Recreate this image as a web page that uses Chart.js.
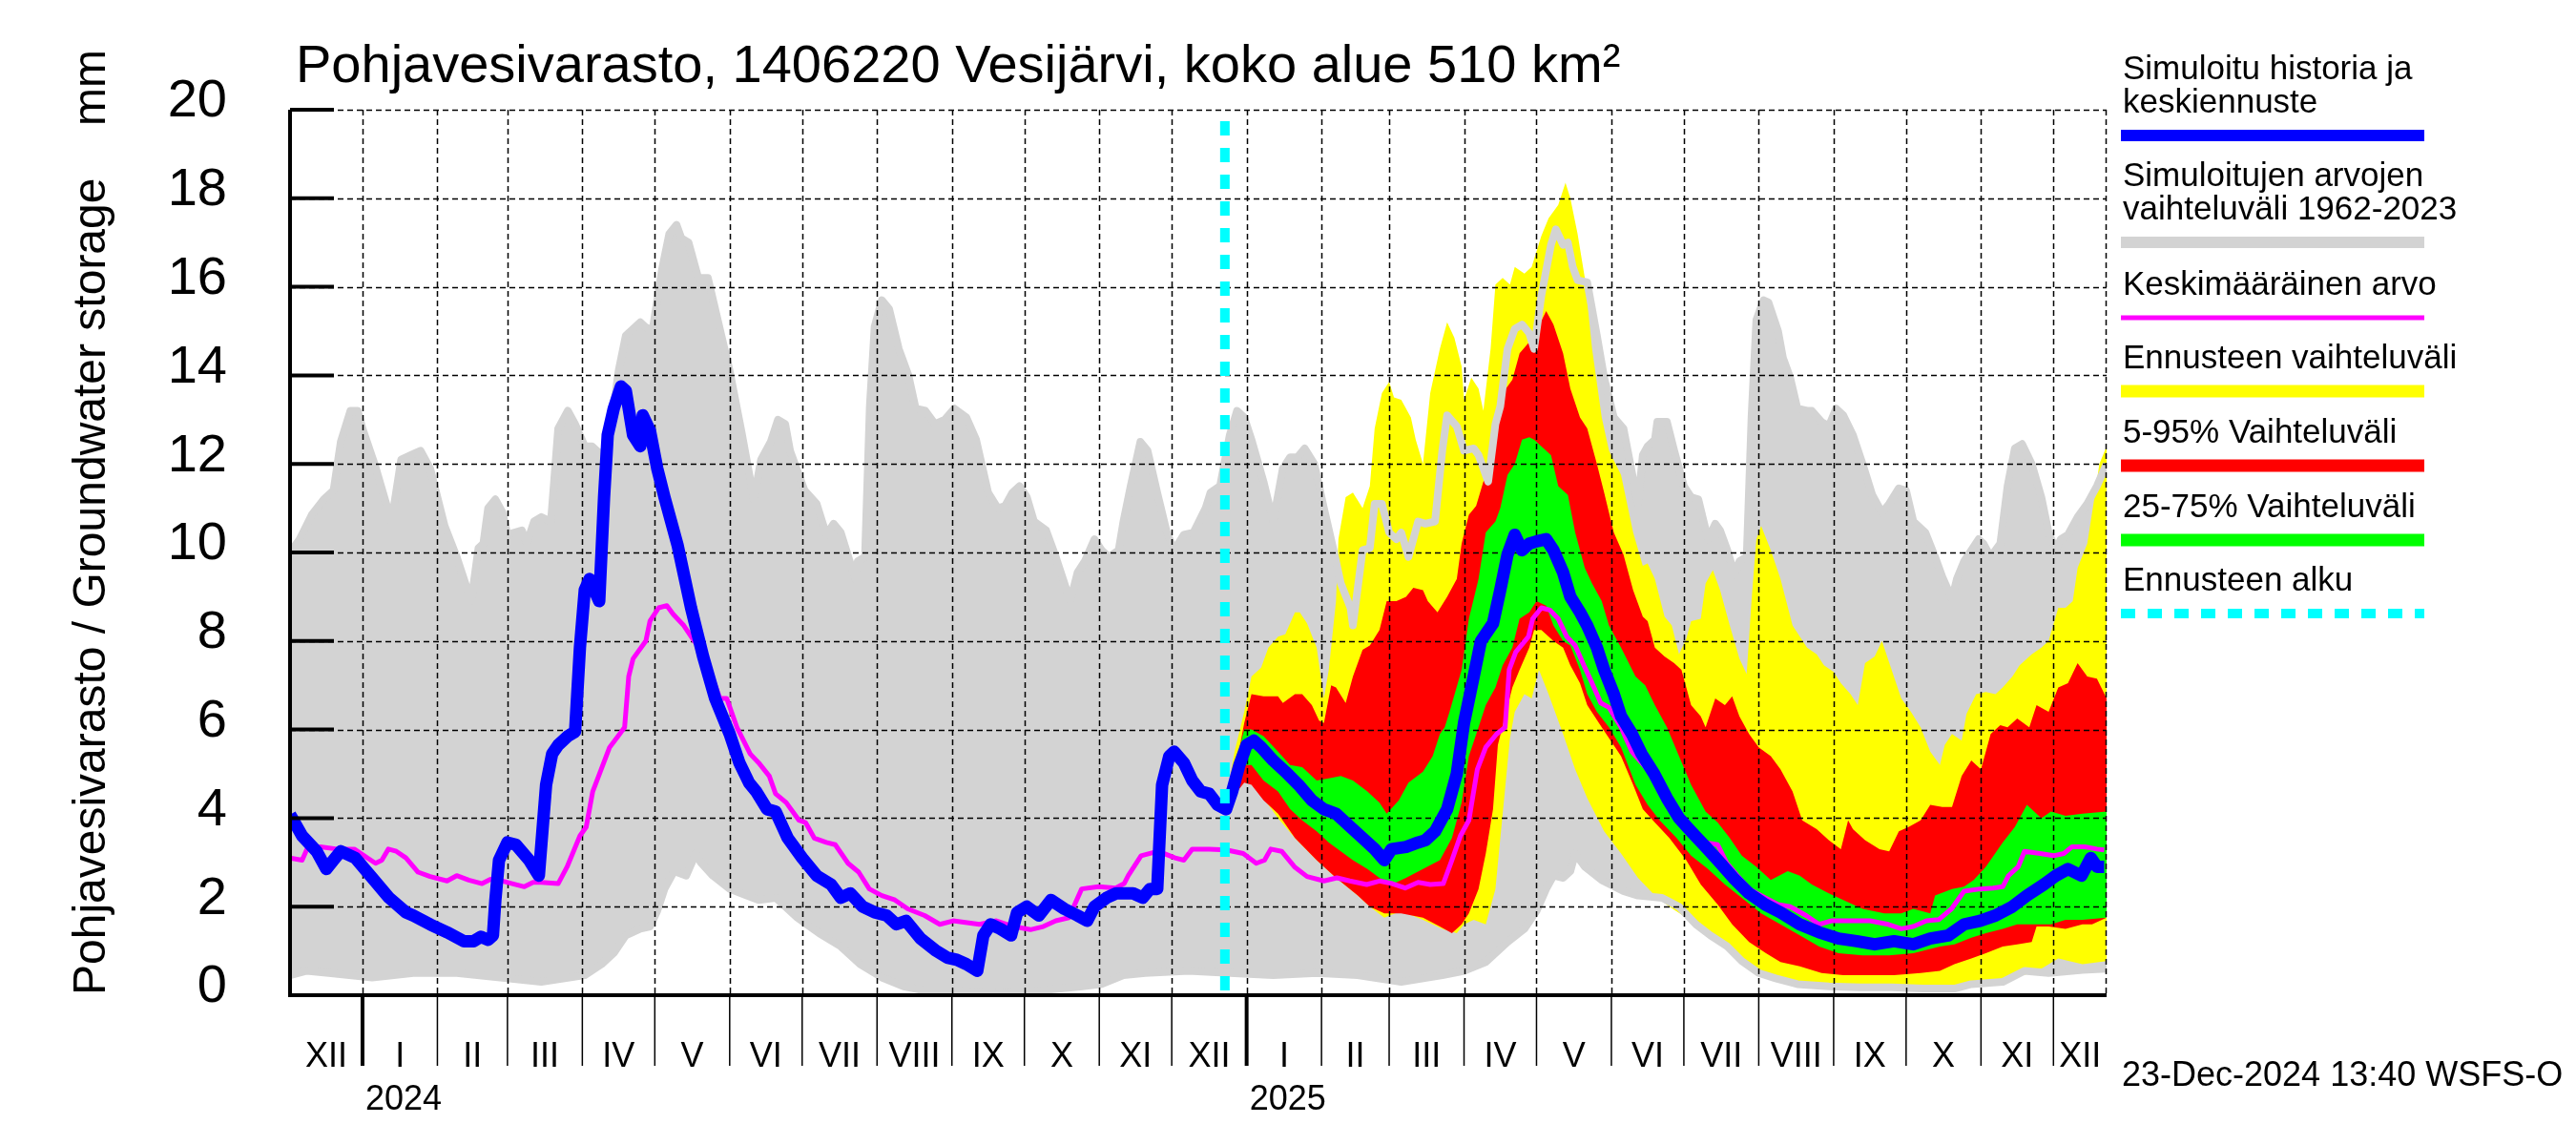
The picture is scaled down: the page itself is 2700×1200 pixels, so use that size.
<!DOCTYPE html>
<html>
<head>
<meta charset="utf-8">
<title>Pohjavesivarasto, 1406220 Vesijärvi</title>
<script src="https://cdn.jsdelivr.net/npm/chart.js@4.4.1/dist/chart.umd.min.js"></script>
<style>
  html, body { margin: 0; padding: 0; background: #fff; }
  canvas { display: block; }
</style>
</head>
<body>
<canvas id="chart" width="2700" height="1200" style="width:2700px;height:1200px"></canvas>
<script>
// x = days counted from 1 Jan 2024, y = storage in mm

// Simuloitujen arvojen vaihteluväli 1962-2023 (upper / lower edge)
const simMax = [
  [-30,10.0],[-26,10.3],[-21,10.85],[-16,11.2],[-12,11.4],[-9,12.5],[-5,13.2],[-2,13.2],[0,12.8],[5,12.0],[12,10.7],[16,12.1],
  [20,12.2],[24,12.3],[28,11.9],[34,10.6],[39,9.9],[45,8.9],[48,10.1],[50,10.2],[52,11.0],[55,11.2],[58,10.9],[60,10.4],
  [66,10.5],[68,10.2],[71,10.7],[74,10.8],[78,10.7],[81,12.8],[85,13.2],[88,12.9],[92,12.4],[95,12.4],[99,12.2],[102,12.5],
  [106,14.1],[109,14.9],[115,15.2],[117,15.1],[120,15.0],[124,16.4],[127,17.2],[130,17.4],[132,17.1],[135,17.0],[139,16.2],
  [143,16.2],[146,15.5],[152,14.1],[157,12.7],[162,11.2],[165,12.1],[169,12.5],[172,13.0],[175,12.9],[177,12.3],[183,11.4],
  [188,11.1],[192,10.4],[195,10.65],[198,10.45],[204,9.4],[205,9.8],[208,9.9],[210,13.3],[212,15.1],[215,15.7],[218,15.5],
  [222,14.6],[226,14.0],[229,13.25],[233,13.2],[237,12.9],[241,13.0],[245,13.25],[250,13.05],[254,12.55],[259,11.35],
  [263,11.0],[266,11.05],[269,11.35],[272,11.5],[275,11.25],[278,10.7],[283,10.5],[287,9.9],[293,8.9],[296,9.55],[299,9.8],
  [303,10.3],[306,10.05],[309,9.9],[313,10.05],[315,10.7],[318,11.5],[322,12.5],[325,12.3],[329,11.35],[333,10.45],
  [336,10.05],[340,10.4],[344,10.45],[349,11.0],[351,11.35],[355,11.5],[359,12.65],[362,13.2],[365,13.05],[368,12.55],
  [373,11.6],[377,10.7],[381,11.9],[384,12.15],[387,12.15],[390,12.35],[394,12.0],[398,11.0],[402,10.05],[405,9.3],
  [409,8.75],[410,8.35],[414,10.05],[417,10.1],[419,11.1],[422,11.1],[425,10.45],[428,10.3],[430,10.45],[433,9.9],
  [437,10.7],[440,10.65],[444,10.7],[447,12.3],[449,13.1],[453,12.85],[456,12.3],[460,12.35],[462,12.2],[466,11.6],
  [469,12.9],[471,13.3],[474,14.6],[477,15.05],[480,15.15],[483,14.95],[485,14.6],[488,15.8],[492,16.95],[494,17.3],
  [497,16.95],[499,17.0],[501,16.45],[503,16.15],[507,16.1],[511,14.9],[514,13.95],[518,13.05],[522,12.8],[528,11.1],
  [530,12.2],[532,12.4],[535,12.55],[536,12.95],[540,12.95],[543,12.3],[547,11.5],[550,11.25],[553,11.2],[557,10.3],
  [560,10.65],[562,10.5],[565,10.05],[568,9.5],[570,9.8],[573,9.9],[575,13.05],[577,15.25],[580,15.7],[582,15.65],
  [586,15.0],[588,14.4],[591,13.95],[594,13.25],[598,13.2],[600,13.2],[604,12.95],[607,12.85],[610,13.25],[613,13.1],
  [617,12.65],[621,12.0],[625,11.3],[629,10.9],[632,11.1],[636,11.45],[639,11.4],[642,10.7],[647,10.45],[651,9.9],
  [654,9.45],[658,8.95],[660,9.4],[663,9.8],[666,10.05],[669,10.3],[671,10.2],[674,9.9],[676,10.05],[678,10.2],
  [681,11.5],[684,12.35],[687,12.45],[691,12.0],[695,11.25],[698,10.45],[701,10.05],[703,10.3],[706,10.4],[710,10.8],
  [714,11.1],[718,11.5],[722,12.0]
];
const simMin = [
  [-30,0.45],[-23,0.55],[-14,0.5],[4,0.4],[21,0.5],[39,0.5],[57,0.4],[74,0.3],[92,0.45],[99,0.7],[104,0.95],[109,1.35],
  [115,1.5],[119,1.55],[122,1.9],[125,2.4],[129,2.8],[134,2.7],[138,3.2],[140,3.0],[145,2.7],[152,2.4],[159,2.25],
  [164,2.15],[171,2.2],[180,1.75],[189,1.4],[198,1.1],[206,0.7],[215,0.4],[224,0.2],[233,0.1],[245,0.1],[262,0.05],
  [280,0.1],[298,0.2],[306,0.25],[315,0.45],[324,0.5],[342,0.55],[359,0.5],[377,0.45],[395,0.5],[412,0.45],[430,0.3],
  [447,0.45],[456,0.55],[465,0.75],[474,1.2],[481,1.5],[486,1.9],[490,2.4],[493,2.7],[497,2.65],[500,2.8],[502,3.2],
  [506,2.9],[513,2.6],[522,2.35],[528,2.25],[538,2.2],[545,2.0],[552,1.6],[558,1.35],[565,1.1],[571,0.77],[578,0.5],
  [585,0.38],[594,0.25],[607,0.2],[620,0.18],[633,0.18],[646,0.15],[659,0.15],[666,0.25],[679,0.3],[688,0.55],
  [698,0.5],[712,0.57],[722,0.6]
];

// Ennusteen vaihteluväli
const fcMax = [
  [357,4.25],[361,5.5],[365,6.4],[368,7.2],[372,7.4],[375,7.85],[379,8.1],[382,8.15],[386,8.65],[388,8.65],[391,8.4],
  [395,7.85],[398,6.7],[400,7.35],[403,8.9],[404,10.3],[407,11.25],[410,11.35],[414,11.0],[417,11.5],[419,12.8],
  [422,13.6],[425,13.85],[427,13.5],[430,13.45],[434,13.05],[436,12.55],[439,12.0],[442,13.6],[446,14.6],[449,15.2],
  [452,14.85],[455,14.2],[456,13.45],[459,13.95],[462,13.7],[464,13.2],[467,14.6],[469,16.05],[472,16.2],[475,16.05],
  [477,16.45],[481,16.3],[484,16.45],[488,17.15],[491,17.55],[495,17.85],[498,18.35],[500,18.0],[503,17.2],[506,16.2],
  [509,14.6],[513,13.05],[516,12.3],[521,11.75],[526,10.45],[530,9.7],[532,9.75],[535,9.4],[539,8.55],[542,8.35],
  [545,7.7],[548,8.05],[550,8.45],[554,8.5],[556,9.3],[559,9.6],[562,9.15],[566,8.35],[570,7.6],[573,7.25],[575,8.9],
  [577,10.3],[579,10.6],[583,10.05],[587,9.4],[592,8.35],[598,7.85],[602,7.7],[605,7.45],[609,7.3],[612,7.05],[616,6.8],
  [619,6.55],[622,7.5],[626,7.65],[629,8.0],[633,7.35],[637,6.7],[641,6.4],[645,6.05],[649,5.5],[653,5.2],[655,5.65],
  [658,5.9],[662,5.75],[664,6.35],[668,6.8],[672,6.85],[676,6.8],[679,6.95],[683,7.2],[686,7.45],[691,7.7],[695,7.85],
  [698,8.0],[702,8.75],[705,8.75],[708,8.9],[710,9.65],[714,10.2],[717,11.25],[719,12.0],[722,12.4]
];
const fcMin = [
  [357,4.25],[361,4.95],[365,5.05],[368,4.85],[373,4.45],[379,4.0],[386,3.55],[395,3.05],[403,2.65],[412,2.25],[417,2.0],
  [423,1.75],[430,1.9],[439,1.7],[447,1.5],[453,1.4],[456,1.6],[460,1.7],[465,1.6],[469,2.4],[472,4.1],[475,5.8],
  [477,6.4],[481,6.8],[484,6.7],[487,7.35],[491,6.8],[497,5.9],[502,5.1],[507,4.45],[514,3.7],[521,3.2],[528,2.65],
  [535,2.25],[541,2.0],[548,1.75],[556,1.4],[564,1.1],[571,0.77],[578,0.5],[587,0.35],[600,0.25],[613,0.2],[626,0.18],
  [640,0.15],[653,0.15],[666,0.2],[679,0.38],[692,0.5],[702,0.83],[712,0.7],[722,0.77]
];

// 5-95% Vaihteluväli
const p95 = [
  [357,4.25],[361,5.0],[365,6.15],[368,6.8],[373,6.75],[379,6.75],[381,6.6],[386,6.8],[389,6.8],[393,6.55],[396,6.2],
  [398,6.15],[401,7.0],[403,6.95],[407,6.6],[410,7.2],[414,7.8],[417,7.9],[421,8.25],[424,8.9],[428,8.9],[432,9.0],
  [435,9.2],[439,9.15],[441,8.9],[445,8.65],[449,9.0],[453,9.4],[455,10.2],[458,10.85],[461,11.05],[464,11.6],[467,11.9],
  [469,12.9],[472,13.6],[476,13.9],[479,14.5],[483,14.75],[485,14.9],[490,15.45],[493,15.15],[497,14.5],[500,13.7],
  [504,13.05],[507,12.8],[511,12.0],[514,11.35],[518,10.45],[522,9.95],[526,9.15],[530,8.55],[532,8.45],[535,7.85],
  [539,7.65],[543,7.5],[546,7.35],[550,6.55],[554,6.3],[556,6.05],[560,6.7],[564,6.55],[567,6.75],[570,6.3],[574,5.9],
  [578,5.6],[583,5.4],[587,5.1],[592,4.6],[596,3.95],[602,3.75],[607,3.5],[612,3.3],[615,3.95],[617,3.75],[622,3.5],
  [628,3.3],[632,3.25],[636,3.7],[640,3.8],[645,3.95],[649,4.3],[654,4.25],[658,4.25],[662,4.95],[666,5.3],[670,5.1],
  [674,5.9],[678,6.1],[681,6.05],[685,6.25],[690,6.05],[693,6.55],[698,6.4],[702,6.95],[706,7.05],[710,7.5],[714,7.2],
  [718,7.15],[722,6.7]
];
const p5 = [
  [357,4.25],[365,4.8],[368,4.75],[373,4.4],[379,4.1],[386,3.55],[395,3.05],[398,2.9],[403,2.65],[412,2.25],[417,2.0],
  [423,1.85],[430,1.85],[439,1.75],[446,1.55],[451,1.4],[455,1.6],[458,1.85],[462,2.4],[465,3.2],[468,4.2],[470,5.65],
  [473,6.3],[476,6.95],[479,7.35],[483,7.85],[485,8.25],[488,8.25],[493,8.0],[497,7.85],[500,7.45],[504,7.05],[507,6.55],
  [513,6.05],[521,5.4],[526,4.75],[530,4.2],[535,3.9],[541,3.55],[548,3.05],[554,2.5],[561,2.05],[567,1.6],[574,1.2],
  [581,0.95],[587,0.75],[595,0.65],[604,0.5],[613,0.45],[624,0.45],[634,0.45],[645,0.5],[653,0.55],[659,0.7],[666,0.83],
  [672,0.95],[679,1.1],[685,1.15],[691,1.2],[693,1.55],[698,1.55],[705,1.5],[712,1.6],[716,1.6],[722,1.75]
];

// 25-75% Vaihteluväli
const p75 = [
  [357,4.25],[365,6.0],[368,6.0],[373,5.85],[379,5.5],[384,5.2],[389,5.15],[395,4.85],[400,4.9],[405,4.95],[410,4.85],
  [416,4.6],[421,4.35],[424,4.1],[429,4.4],[433,4.8],[439,5.05],[443,5.4],[446,5.9],[448,6.05],[450,6.4],[455,7.35],
  [458,8.5],[462,9.4],[465,10.45],[469,10.7],[471,11.0],[474,11.75],[477,12.0],[480,12.55],[483,12.6],[485,12.55],
  [488,12.4],[492,12.2],[495,11.5],[499,11.3],[502,10.45],[506,9.65],[509,9.3],[513,8.9],[516,8.35],[521,7.85],
  [527,7.2],[531,7.0],[535,6.55],[540,6.05],[545,5.4],[550,4.75],[556,4.15],[561,3.9],[566,3.55],[571,3.15],[577,2.9],
  [583,2.6],[590,2.8],[595,2.7],[600,2.5],[607,2.3],[613,2.15],[621,1.95],[630,1.85],[637,1.85],[642,1.95],[649,1.85],
  [651,2.25],[658,2.4],[663,2.45],[667,2.6],[672,2.9],[679,3.45],[684,3.8],[689,4.3],[695,4.0],[699,4.15],[705,4.05],
  [712,4.1],[722,4.15]
];
const p25 = [
  [357,4.25],[365,5.2],[368,5.2],[373,4.85],[379,4.6],[384,4.2],[389,3.95],[395,3.7],[400,3.45],[405,3.25],[410,3.05],
  [416,2.85],[421,2.65],[426,2.5],[432,2.65],[439,2.85],[446,3.05],[451,3.55],[455,4.35],[458,5.4],[462,6.05],
  [465,6.55],[469,6.95],[472,7.45],[476,7.85],[479,8.5],[483,8.65],[486,8.9],[490,8.8],[493,8.35],[497,8.0],[500,7.9],
  [504,7.35],[507,6.8],[511,6.4],[516,6.05],[521,5.6],[527,4.75],[532,4.3],[537,3.95],[544,3.55],[550,3.15],[557,2.85],
  [564,2.5],[571,2.2],[579,1.85],[587,1.6],[595,1.35],[603,1.1],[611,0.95],[621,0.9],[632,0.9],[642,0.95],[653,1.1],
  [659,1.15],[666,1.3],[672,1.4],[679,1.5],[685,1.6],[692,1.6],[699,1.6],[705,1.7],[712,1.7],[722,1.75]
];

// Keskimääräinen arvo
const meanVals = [
  [-30,3.1],[-25,3.05],[-23,3.3],[-17.5,3.35],[-10.5,3.3],[-3.4,3.3],[2,3.1],[5.4,2.98],[8,3.05],[10.7,3.3],[14,3.25],
  [18,3.1],[23,2.78],[28,2.68],[35,2.58],[39,2.7],[44,2.6],[49.5,2.52],[53,2.62],[56.5,2.6],[62,2.52],[67,2.45],
  [70.6,2.55],[74,2.55],[81,2.52],[84.7,2.9],[90,3.6],[92.6,3.8],[95.3,4.6],[98.8,5.1],[102.3,5.6],[105.8,5.85],
  [108.5,6.05],[110.2,7.2],[112,7.6],[117.3,8.0],[119,8.45],[122.6,8.75],[126,8.8],[128.7,8.6],[133,8.35],[136.7,8.05],
  [140,7.8],[144.6,7.2],[148,6.7],[150.8,6.7],[155,6.05],[160.5,5.45],[164,5.25],[168.4,4.95],[171,4.55],[175.4,4.35],
  [180.7,3.95],[183.4,3.9],[187,3.55],[192,3.45],[195.7,3.4],[201,2.98],[205.4,2.78],[209.8,2.4],[215,2.25],[220.4,2.15],
  [225.7,1.95],[232.7,1.8],[239,1.6],[244.5,1.68],[255.4,1.6],[262.4,1.68],[269.5,1.55],[276.5,1.48],[281.8,1.55],
  [287,1.68],[292.4,1.75],[297.7,2.4],[304.7,2.45],[311.8,2.42],[315.3,2.52],[317,2.7],[322.3,3.15],[329.4,3.25],
  [336.4,3.1],[340,3.05],[343.5,3.3],[350.5,3.3],[357.6,3.28],[364.6,3.2],[370,2.98],[373.4,3.05],[376,3.3],
  [380.5,3.25],[385.8,2.9],[391,2.68],[398,2.58],[403.4,2.65],[408.7,2.58],[415.7,2.5],[421,2.58],[426.3,2.52],
  [431.6,2.42],[437,2.55],[442,2.5],[447.4,2.52],[451,3.05],[454.5,3.6],[458,3.95],[461.5,5.1],[465,5.6],[469.5,5.9],
  [473,6.05],[474.7,7.35],[477.4,7.75],[482.7,8.1],[484.4,8.5],[488,8.75],[491.5,8.7],[495,8.5],[498.5,8.1],[502,7.9],
  [505.6,7.45],[509,7.05],[512.6,6.6],[516,6.5],[521,6.05],[525.5,5.5],[529.5,5.25],[533.4,5.0],[537.3,4.55],
  [541.3,4.3],[546.5,3.9],[551.7,3.55],[555.7,3.45],[561,3.4],[564.8,2.98],[570,2.65],[574,2.4],[579,2.25],[586,2.05],
  [591,2.0],[597.6,1.8],[603,1.6],[608,1.68],[616,1.68],[624,1.68],[631.6,1.6],[637,1.5],[642,1.55],[647.4,1.68],
  [652.6,1.71],[657.8,1.95],[663,2.35],[669.6,2.4],[675,2.42],[679,2.45],[681.4,2.7],[685.4,2.9],[688,3.25],[694.5,3.2],
  [700,3.15],[704.3,3.2],[707.6,3.35],[713,3.35],[718,3.3],[721,3.28]
];

// Simuloitu historia ja keskiennuste
const medianVals = [
  [-30,4.08],[-25,3.6],[-19,3.25],[-15,2.85],[-12,3.05],[-9,3.25],[-3,3.1],[4,2.65],[11,2.2],[18,1.87],[21,1.8],[28,1.6],
  [35,1.42],[42,1.22],[46,1.22],[49,1.32],[52,1.25],[54,1.35],[55,2.15],[56.5,3.05],[60,3.45],[63.5,3.4],[69,3.05],
  [73,2.7],[76,4.75],[78.5,5.45],[81,5.65],[85,5.85],[88,5.95],[90,7.85],[92,9.15],[94,9.4],[98,8.9],[100,11.25],
  [101.5,12.65],[104,13.25],[107,13.75],[109,13.65],[112,12.65],[115,12.4],[116,13.1],[119,12.75],[122,11.9],[125,11.25],
  [130.5,10.15],[136,8.75],[141,7.65],[146,6.7],[152,5.9],[156,5.25],[160,4.8],[163,4.6],[167.5,4.2],[171,4.15],
  [176,3.55],[182,3.1],[188,2.7],[194,2.5],[198,2.2],[202,2.3],[207,2.0],[212,1.87],[217,1.8],[221,1.6],[225,1.68],
  [231,1.28],[237,1.02],[242,0.85],[246,0.8],[250,0.7],[254.5,0.55],[257,1.35],[260,1.6],[264,1.5],[268.5,1.35],
  [271,1.87],[275,2.0],[280,1.8],[285,2.15],[290.5,1.95],[296,1.8],[300,1.68],[303,2.0],[308,2.2],[312,2.3],[319,2.3],
  [323,2.2],[326,2.4],[329,2.4],[331,4.75],[334,5.4],[336,5.5],[340,5.25],[343.5,4.85],[347,4.6],[350.5,4.55],[354,4.3],
  [357.5,4.2],[360,4.6],[363,5.2],[366,5.65],[369,5.75],[372,5.6],[377,5.3],[382,5.05],[387.5,4.75],[393,4.4],[398,4.2],
  [403,4.1],[409,3.8],[414,3.55],[419,3.3],[423,3.05],[426,3.3],[432,3.35],[437,3.45],[440,3.5],[444,3.7],[449,4.2],
  [453,5.0],[456,6.15],[460,7.2],[463,8.0],[468,8.4],[471,9.15],[474,9.95],[477,10.4],[480,10.05],[483,10.2],
  [486,10.25],[490,10.3],[493,10.05],[497,9.55],[500,9.0],[504,8.65],[507,8.35],[511,7.85],[514,7.35],[518,6.8],
  [521,6.3],[525.5,5.9],[529.5,5.45],[534.7,5.0],[540,4.45],[545,4.0],[550,3.7],[556,3.35],[561,3.05],[567.5,2.65],
  [574,2.3],[580.6,2.05],[587,1.87],[595,1.6],[603,1.42],[611,1.28],[618.5,1.22],[626,1.15],[634,1.22],[642,1.15],
  [649,1.28],[656.5,1.35],[663,1.6],[669.6,1.68],[676,1.8],[683,2.0],[689,2.25],[696,2.5],[701,2.7],[706,2.85],
  [711.6,2.7],[715.5,3.1],[718,2.9],[721,2.9]
];

const forecastStart = 357;          // 23 Dec 2024
const xMin = -30, xMax = 722;       // 2 Dec 2023 .. 23 Dec 2025
const yTicks = [0, 2, 4, 6, 8, 10, 12, 14, 16, 18, 20];
const monthNames = ['I', 'II', 'III', 'IV', 'V', 'VI', 'VII', 'VIII', 'IX', 'X', 'XI', 'XII'];
const yearLabels = ['2024', '2025'];

const FONT = '"Liberation Sans", Arial, Helvetica, sans-serif';
const toXY = (pairs) => pairs.map(([x, y]) => ({ x, y }));
const dayOf = (y, m, d) => (Date.UTC(y, m, d) - Date.UTC(2024, 0, 1)) / 86400000;

// month boundaries Dec 2023 .. Jan 2026
const months = [];
for (let i = 0; i < 26; i++) {
  const y = 2023 + Math.floor((11 + i) / 12);
  const m = (11 + i) % 12;
  months.push({ start: dayOf(y, m, 1), end: dayOf(y, m + 1, 1), m, y });
}

const legendItems = [
  { lines: ['Simuloitu historia ja', 'keskiennuste'], color: '#0000ff', width: 12, y: 142 },
  { lines: ['Simuloitujen arvojen', 'vaihteluväli 1962-2023'], color: '#d3d3d3', width: 12, y: 254 },
  { lines: ['Keskimääräinen arvo'], color: '#ff00ff', width: 5, y: 333 },
  { lines: ['Ennusteen vaihteluväli'], color: '#ffff00', width: 13, y: 410 },
  { lines: ['5-95% Vaihteluväli'], color: '#ff0000', width: 13, y: 488 },
  { lines: ['25-75% Vaihteluväli'], color: '#00ff00', width: 13, y: 566 },
  { lines: ['Ennusteen alku'], color: '#00ffff', width: 10, y: 643, dash: [15, 13] },
];

function drawGrid(chart) {
  const { ctx, chartArea: a, scales: { x, y } } = chart;
  ctx.save();
  ctx.strokeStyle = '#000';
  ctx.lineWidth = 1.5;
  ctx.setLineDash([6, 4]);
  yTicks.forEach((v) => {
    if (v === 0) return;
    const py = Math.round(y.getPixelForValue(v)) + 0.5;
    ctx.beginPath(); ctx.moveTo(a.left, py); ctx.lineTo(a.right, py); ctx.stroke();
  });
  months.forEach((mo) => {
    if (mo.start <= xMin || mo.start > xMax) return;
    const px = Math.round(x.getPixelForValue(mo.start)) + 0.5;
    ctx.beginPath(); ctx.moveTo(px, a.top); ctx.lineTo(px, a.bottom); ctx.stroke();
  });
  const pr = Math.round(a.right) - 0.5;
  ctx.beginPath(); ctx.moveTo(pr, a.top); ctx.lineTo(pr, a.bottom); ctx.stroke();
  ctx.restore();
}

const decorations = {
  id: 'decorations',
  beforeDraw(chart) {
    const { ctx, width, height } = chart;
    ctx.save();
    ctx.fillStyle = '#fff';
    ctx.fillRect(0, 0, width, height);
    ctx.restore();
  },
  beforeDatasetDraw(chart, args) {
    if (chart.data.datasets[args.index].label === 'mean') drawGrid(chart);
  },
  afterDatasetsDraw(chart) {
    const { ctx, chartArea: a, scales: { x, y } } = chart;
    ctx.save();

    // forecast start
    const fx = x.getPixelForValue(forecastStart);
    ctx.strokeStyle = '#00ffff';
    ctx.lineWidth = 10;
    ctx.setLineDash([15, 13]);
    ctx.beginPath(); ctx.moveTo(fx, a.top + 12); ctx.lineTo(fx, a.bottom); ctx.stroke();
    ctx.setLineDash([]);

    // axes
    ctx.strokeStyle = '#000';
    ctx.lineWidth = 4;
    ctx.beginPath();
    ctx.moveTo(a.left, a.top); ctx.lineTo(a.left, a.bottom); ctx.lineTo(a.right, a.bottom);
    ctx.stroke();

    // y ticks and labels
    ctx.fillStyle = '#000';
    ctx.font = '56px ' + FONT;
    ctx.textAlign = 'right';
    ctx.textBaseline = 'middle';
    yTicks.forEach((v) => {
      const py = y.getPixelForValue(v);
      ctx.beginPath(); ctx.moveTo(a.left, py); ctx.lineTo(a.left + 46, py); ctx.stroke();
      ctx.fillText(String(v), 238, py - 8);
    });

    // month ticks and labels
    ctx.font = '36px ' + FONT;
    ctx.textAlign = 'center';
    months.forEach((mo) => {
      if (mo.start > xMin && mo.start <= xMax) {
        const px = x.getPixelForValue(mo.start);
        ctx.lineWidth = mo.m === 0 ? 4 : 1.5;
        ctx.beginPath(); ctx.moveTo(px, a.bottom); ctx.lineTo(px, a.bottom + 74); ctx.stroke();
      }
      const s = Math.max(mo.start, xMin), e = Math.min(mo.end, xMax);
      if (e - s > 10) {
        ctx.fillText(monthNames[mo.m], x.getPixelForValue((s + e) / 2), 1108);
      }
    });
    ctx.textAlign = 'left';
    yearLabels.forEach((lbl) => {
      ctx.fillText(lbl, x.getPixelForValue(dayOf(+lbl, 0, 1)) + 3, 1153);
    });

    // footer
    ctx.font = '36px ' + FONT;
    ctx.fillText('23-Dec-2024 13:40 WSFS-O', 2224, 1128);

    // title
    ctx.font = '56px ' + FONT;
    ctx.textBaseline = 'alphabetic';
    ctx.fillText('Pohjavesivarasto, 1406220 Vesijärvi, koko alue 510 km²', 310, 86);

    // y axis title
    ctx.save();
    ctx.translate(110, a.bottom);
    ctx.rotate(-Math.PI / 2);
    ctx.font = '48px ' + FONT;
    ctx.textAlign = 'left';
    ctx.fillText('Pohjavesivarasto / Groundwater storage', 0, 0);
    ctx.textAlign = 'right';
    ctx.fillText('mm', a.bottom - 52, 0);
    ctx.restore();

    // legend
    ctx.font = '35px ' + FONT;
    ctx.textAlign = 'left';
    legendItems.forEach((it) => {
      const n = it.lines.length;
      it.lines.forEach((t, i) => ctx.fillText(t, 2225, it.y - 24 - (n - 1 - i) * 35));
      ctx.strokeStyle = it.color;
      ctx.lineWidth = it.width;
      ctx.setLineDash(it.dash || []);
      ctx.beginPath(); ctx.moveTo(2223, it.y); ctx.lineTo(2541, it.y); ctx.stroke();
    });
    ctx.restore();
  }
};

const band = (data, color, order, fill) => ({
  data: toXY(data), fill: fill ? '+1' : false, backgroundColor: color,
  borderColor: 'rgba(0,0,0,0)', borderWidth: 0, order
});
const line = (label, data, color, width, order) => ({
  label, data: toXY(data), fill: false, borderColor: color, borderWidth: width, order
});

new Chart(document.getElementById('chart'), {
  type: 'line',
  data: {
    datasets: [
      band(simMax, '#d3d3d3', 10, true),
      band(simMin, '#d3d3d3', 10, false),
      band(fcMax, '#ffff00', 9, true),
      band(fcMin, '#ffff00', 9, false),
      band(p95, '#ff0000', 8, true),
      band(p5, '#ff0000', 8, false),
      line('simMaxLine', simMax, '#d3d3d3', 8, 7),
      line('simMinLine', simMin, '#d3d3d3', 8, 7),
      band(p75, '#00ff00', 6, true),
      band(p25, '#00ff00', 6, false),
      line('mean', meanVals, '#ff00ff', 5, 2),
      line('median', medianVals, '#0000ff', 13, 1),
    ]
  },
  options: {
    responsive: false,
    devicePixelRatio: 1,
    animation: false,
    events: [],
    layout: { padding: { left: 304, right: 492, top: 115, bottom: 157 } },
    elements: {
      point: { radius: 0 },
      line: { tension: 0, borderJoinStyle: 'round', borderCapStyle: 'butt' }
    },
    datasets: { line: { clip: 0 } },
    scales: {
      x: { type: 'linear', min: xMin, max: xMax, display: false },
      y: { type: 'linear', min: 0, max: 20, display: false }
    },
    plugins: {
      legend: { display: false },
      tooltip: { enabled: false },
      filler: { propagate: false }
    }
  },
  plugins: [decorations]
});
</script>
</body>
</html>
